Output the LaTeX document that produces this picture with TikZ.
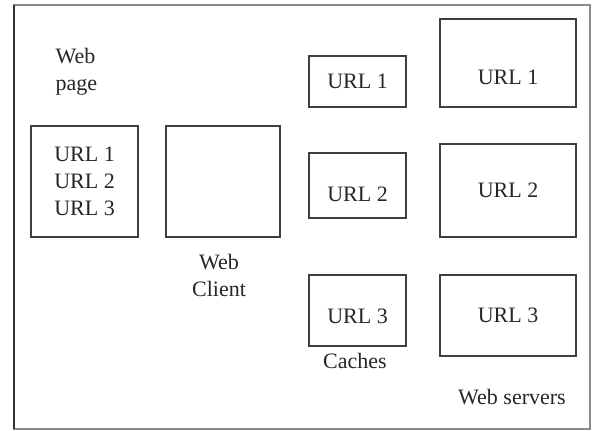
\documentclass[tikz,border=0pt]{standalone}
\usepackage{fontspec}
\setmainfont{Liberation Serif}
\usetikzlibrary{positioning}

\begin{document}
\begin{tikzpicture}[x=1pt,y=-1pt]
        \begin{scope}[
            every node/.style={font=\fontsize{22}{27}\selectfont,text=black!85},
            urlbox/.style={rectangle,draw=black!75,line width=1.2pt,inner sep=0pt,align=center}
            ]
            \useasboundingbox (0,0) rectangle (592,431);
            \draw [black!45, line width=1.5pt] (14,5) rectangle (590,429);
            \draw [black!80, line width=2pt] (14,5) -- (14,429);
            % web page and client
            \node [align=left, anchor=west] (pagetitle) at (52,72) {Web\\page};
            \node [urlbox, minimum width=107, minimum height=111] (page) at (84.5,181.5) {URL 1\\URL 2\\URL 3};
            \node [urlbox, minimum width=114, minimum height=111] (client) at (223,181.5) {};
            \node [align=center] (clienttitle) at (219,275) {Web\\Client};
            % caches
            \node [urlbox, minimum width=97, minimum height=51] (cacheA) at (357.5,81.5) {URL 1};
            \node [urlbox, minimum width=97, minimum height=65, label={[yshift=-9pt]center:URL 2}] (cacheB) at (357.5,185.5) {};
            \node [urlbox, minimum width=97, minimum height=71, label={[yshift=-6pt]center:URL 3}] (cacheC) at (357.5,310.5) {};
            \node (cachetitle) at (355,361) {Caches};
            % servers
            \node [urlbox, minimum width=136, minimum height=88, label={[yshift=-14pt]center:URL 1}] (serverA) at (508,63) {};
            \node [urlbox, minimum width=136, minimum height=93] (serverB) at (508,190.5) {URL 2};
            \node [urlbox, minimum width=136, minimum height=81] (serverC) at (508,315.5) {URL 3};
            \node (servertitle) at (512,397) {Web servers};
        \end{scope}
    \end{tikzpicture}
\end{document}
